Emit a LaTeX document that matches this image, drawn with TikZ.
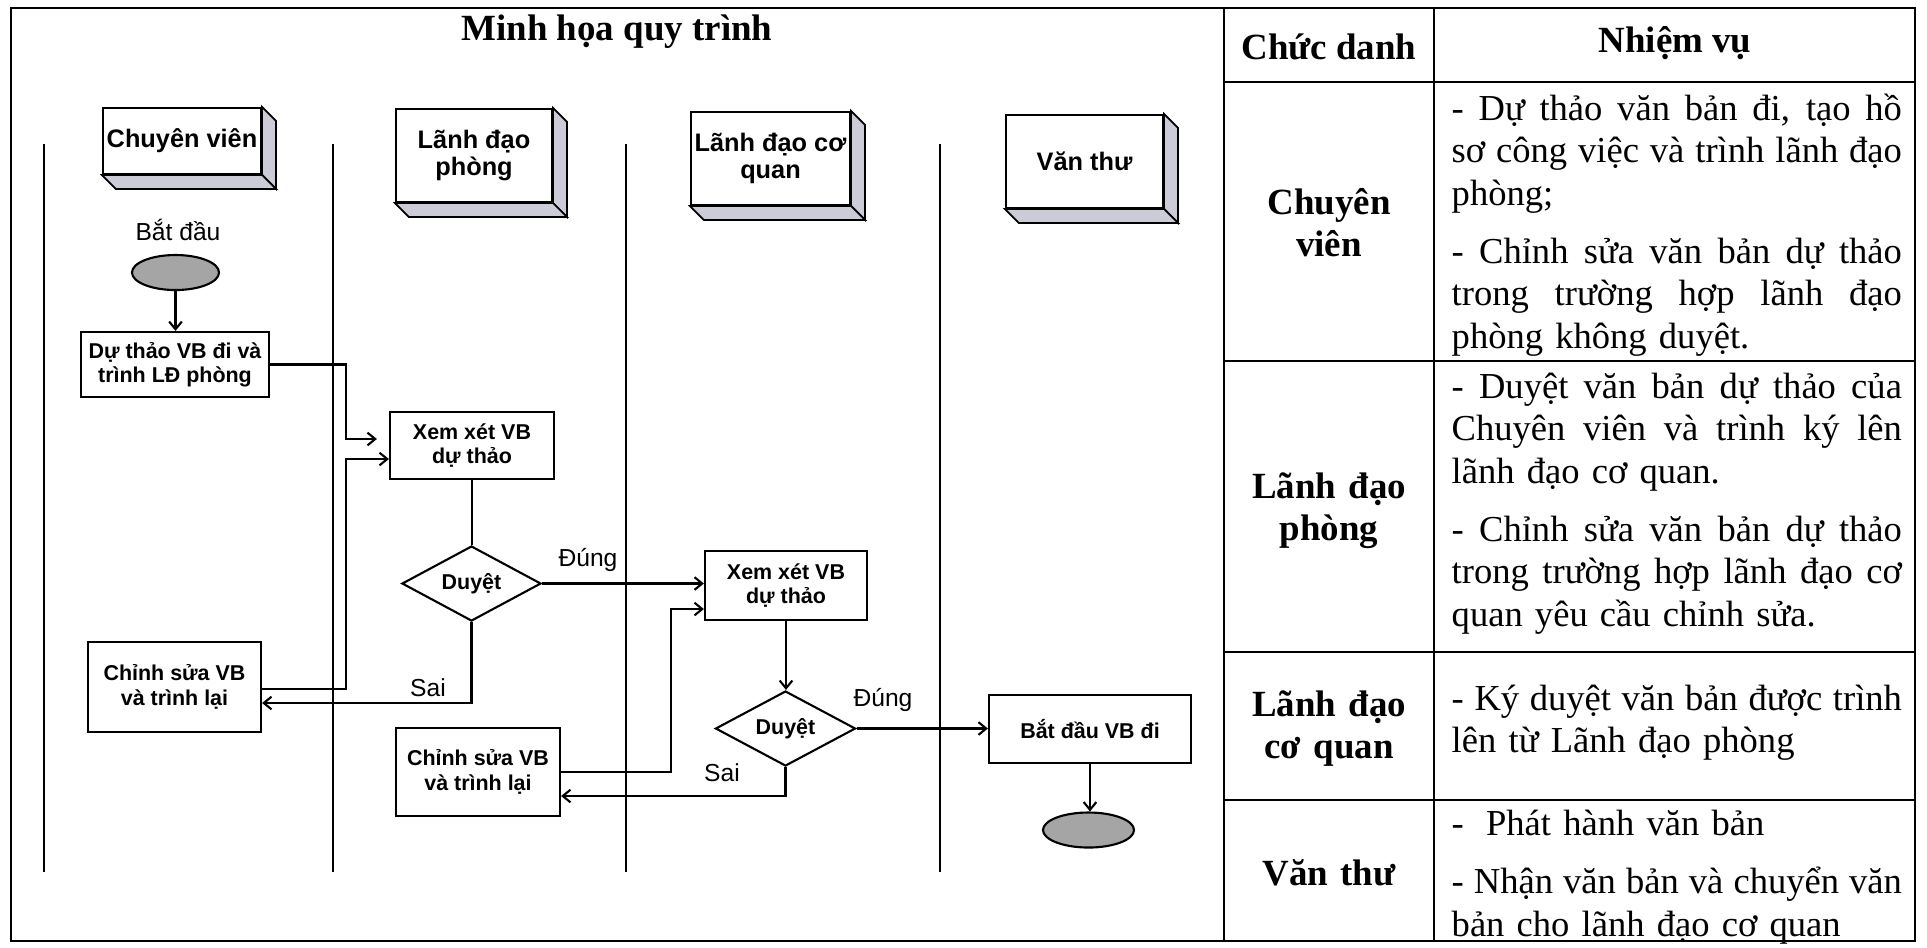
\documentclass[tikz,border=0pt]{standalone}
\usepackage{fontspec}
\setmainfont{Liberation Serif}
\newfontfamily\arialfont{Liberation Sans}
\usetikzlibrary{shapes.geometric,arrows.meta}

\definecolor{bevelGray}{RGB}{203,204,216}
\definecolor{termGray}{RGB}{165,165,165}

\newcommand\laneFont{\arialfont\bfseries\fontsize{7.2}{7.8}\selectfont}
\newcommand\boxFont{\arialfont\bfseries\fontsize{6.1}{6.9}\selectfont}
\newcommand\labelFont{\arialfont\fontsize{7}{8}\selectfont}
\newcommand\tableFont{\fontsize{10.4}{12.1}\selectfont}
\newcommand\headFont{\bfseries\fontsize{10.5}{11.95}\selectfont}
\newcommand\jline[1]{\leavevmode\hbox to 4.5cm{\spaceskip=\fontdimen2\font plus 1fil minus 0.1em\relax #1}}
\lineskiplimit=-10pt

\begin{document}
\begin{tikzpicture}
[x=0.01cm,y=-0.01cm,
  laneDecorate/.style={draw,line width=0.6pt,fill=white,inner sep=0pt,align=center,font=\laneFont},%
  bevelDecorate/.style={draw,line width=0.5pt,fill=bevelGray},%
  boxDecorate/.style={draw,line width=0.6pt,inner sep=0pt,align=center,font=\boxFont},%
  decisionDecorate/.style={draw,diamond,shape aspect=1.87,line width=0.6pt,inner sep=0pt,font=\boxFont},%
  termDecorate/.style={draw,ellipse,line width=0.6pt,fill=termGray,inner sep=0pt},%
  labelDecorate/.style={inner sep=0pt,font=\labelFont},%
  lineDecorate/.style={-,line width=0.6pt},%
  arrowDecorate/.style={-{Straight Barb[length=2.2pt,width=3.6pt]},line width=0.6pt},%
  tableDecorate/.style={line width=0.8pt},%
  roleDecorate/.style={anchor=base,inner sep=0pt,text width=2cm,align=center,font=\headFont},%
  taskDecorate/.style={anchor=base west,inner sep=0pt,text width=4.5cm,align=left,font=\tableFont}]
\fill[white] (0,0) rectangle (1927,947);
\useasboundingbox (0,0) rectangle (1927,947);

%% table frame
\draw[tableDecorate] (11,8) rectangle (1915,941);
\foreach \x in {1224,1434}
{
  \draw[tableDecorate] (\x,8) -- (\x,941);
}
\foreach \y in {82,361,652,800}
{
  \draw[tableDecorate] (1224,\y) -- (1915,\y);
}

%% headings
\node (title) at (617,40) [anchor=base,inner sep=0pt,font=\headFont] {Minh họa quy trình};
\node (colRole) at (1329,59) [anchor=base,inner sep=0pt,font=\headFont] {Chức danh};
\node (colTask) at (1675,52) [anchor=base,inner sep=0pt,font=\headFont] {Nhiệm vụ};

%% swimlanes
\foreach \x in {44,333,626,940}
{
  \draw[lineDecorate] (\x,144) -- (\x,872);
}
\foreach \name/\x/\y/\w/\h/\txt in {
  laneCV/182/141/1.58/0.66/{Chuyên viên},
  laneLDP/474/155.5/1.56/0.93/{Lãnh đạo\\phòng},
  laneLDCQ/770.5/158.5/1.59/0.93/{Lãnh đạo cơ\\quan},
  laneVT/1084.5/161.5/1.57/0.93/{Văn thư}}
{
  \node (\name) at (\x,\y) [laneDecorate,minimum width=\w cm,minimum height=\h cm] {\txt};
  \draw[bevelDecorate] (\name.north east) -- ++(14,14) -- ([shift={(14,14)}]\name.south east) -- (\name.south east) -- cycle;
  \draw[bevelDecorate] (\name.south west) -- ++(14,14) -- ([shift={(14,14)}]\name.south east) -- (\name.south east) -- cycle;
}

%% nodes or vertices
\node (start) at (175.5,272.5) [termDecorate,minimum width=0.87cm,minimum height=0.35cm] {};
\node (startLabel) at (178,230) [labelDecorate] {Bắt đầu};
\node (draft) at (175,364.5) [boxDecorate,minimum width=1.88cm,minimum height=0.65cm] {Dự thảo VB đi và\\trình LĐ phòng};
\node (reviewA) at (472,445.5) [boxDecorate,minimum width=1.64cm,minimum height=0.67cm] {Xem xét VB\\dự thảo};
\node (decideA) at (471.5,583.5) [decisionDecorate,minimum width=1.39cm,minimum height=0.75cm] {Duyệt};
\node (editA) at (174.5,687) [boxDecorate,minimum width=1.73cm,minimum height=0.90cm] {Chỉnh sửa VB\\và trình lại};
\node (reviewB) at (786,585.5) [boxDecorate,minimum width=1.62cm,minimum height=0.69cm] {Xem xét VB\\dự thảo};
\node (decideB) at (785.5,728.5) [decisionDecorate,minimum width=1.40cm,minimum height=0.75cm] {Duyệt};
\node (editB) at (478,772) [boxDecorate,minimum width=1.64cm,minimum height=0.88cm] {Chỉnh sửa VB\\và trình lại};
\node (send) at (1090,729) [boxDecorate,minimum width=2.02cm,minimum height=0.68cm] {Bắt đầu VB đi};
\node (finish) at (1088.5,830) [termDecorate,minimum width=0.91cm,minimum height=0.35cm] {};
\node (yesA) at (588,560) [labelDecorate] {Đúng};
\node (noA) at (428,688) [labelDecorate] {Sai};
\node (yesB) at (883,700) [labelDecorate] {Đúng};
\node (noB) at (722,773) [labelDecorate] {Sai};

%% edges or lines
\draw[arrowDecorate] (start.south) -- (start.south |- draft.north);
\draw[arrowDecorate,shorten >=0.12cm] (draft.east) -| ([xshift=-0.43cm,yshift=0.065cm]reviewA.west) -- ([yshift=0.065cm]reviewA.west);
\draw[lineDecorate] (reviewA.south) -- (reviewA.south |- decideA.north);
\draw[arrowDecorate] (decideA.east) -- (decideA.east -| reviewB.west);
\draw[arrowDecorate] (decideA.south) |- ([yshift=-0.16cm]editA.east);
\draw[arrowDecorate] ([yshift=-0.02cm]editA.east) -| ([xshift=-0.43cm,yshift=-0.135cm]reviewA.west) -- ([yshift=-0.135cm]reviewA.west);
\draw[arrowDecorate] (reviewB.south) -- (reviewB.south |- decideB.north);
\draw[arrowDecorate] (decideB.east) -- (decideB.east -| send.west);
\draw[arrowDecorate] (decideB.south) |- ([yshift=-0.24cm]editB.east);
\draw[arrowDecorate] (editB.east) -| ([xshift=-0.33cm,yshift=-0.235cm]reviewB.west) -- ([yshift=-0.235cm]reviewB.west);
\draw[arrowDecorate] (send.south) -- (send.south |- finish.north);

%% roles and tasks
\node (roleCV) at (1329,214) [roleDecorate] {Chuyên\\viên};
\node (roleLDP) at (1329,498) [roleDecorate] {Lãnh đạo\\phòng};
\node (roleLDCQ) at (1329,716) [roleDecorate] {Lãnh đạo\\cơ quan};
\node (roleVT) at (1329,885) [roleDecorate] {Văn thư};
\node (taskCV) at (1451,120) [taskDecorate] {\jline{- Dự thảo văn bản đi, tạo hồ}\\ \jline{sơ công việc và trình lãnh đạo}\\ phòng;\\[4.4pt] \jline{- Chỉnh sửa văn bản dự thảo}\\ \jline{trong trường hợp lãnh đạo}\\ phòng không duyệt.};
\node (taskLDP) at (1451,398) [taskDecorate] {\jline{- Duyệt văn bản dự thảo của}\\ \jline{Chuyên viên và trình ký lên}\\ lãnh đạo cơ quan.\\[4.4pt] \jline{- Chỉnh sửa văn bản dự thảo}\\ \jline{trong trường hợp lãnh đạo cơ}\\ quan yêu cầu chỉnh sửa.};
\node (taskLDCQ) at (1451,710) [taskDecorate] {\jline{- Ký duyệt văn bản được trình}\\ lên từ Lãnh đạo phòng};
\node (taskVT) at (1451,835) [taskDecorate] {-\hspace{0.1cm} Phát hành văn bản\\[4.6pt] \jline{- Nhận văn bản và chuyển văn}\\ bản cho lãnh đạo cơ quan};
\end{tikzpicture}
\end{document}
